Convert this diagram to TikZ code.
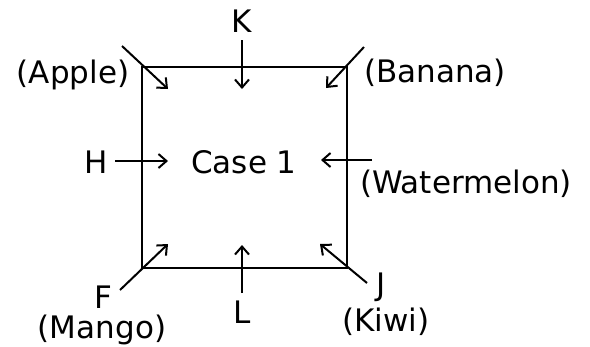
\documentclass[tikz,border=0pt]{standalone}
\usepackage{fontspec}
\setmainfont{DejaVu Sans}
\usetikzlibrary{arrows.meta,positioning}

\begin{document}
\begin{tikzpicture}
[x=1pt,y=-1pt,every node/.style={inner sep=0pt,font=\fontsize{31}{37}\selectfont},
pointer/.style={line width=2pt,-{Straight Barb[length=8pt,width=14pt,line width=2pt]}}]
\useasboundingbox (0,0) rectangle (590,346);
% the box
\coordinate (tl) at (142,67);
\coordinate (tr) at (347,67);
\coordinate (br) at (347,268);
\coordinate (bl) at (142,268);
\draw[line width=2pt] (tl) -- (tr) -- (br) -- (bl) -- cycle;
\node (case) at (244,162) {Case 1};
% labels
\node (k) at (242,21) {K};
\node (l) at (242,312) {L};
\node (h) at (96,162) {H};
\node (apple) at (73,75) {(Apple)};
\node (banana) at (435,73) {(Banana)};
\node (water) at (466,184) {(Watermelon)};
\node (f) at (103,297) {F};
\node (mango) at (102,330) {(Mango)};
\node (j) at (381,287) {J};
\node (kiwi) at (386,322) {(Kiwi)};
% arrow ends
\coordinate (kt) at (242,40);  \coordinate (kh) at (242,89);
\coordinate (lt) at (242,293); \coordinate (lh) at (242,245);
\coordinate (ht) at (115,161); \coordinate (hh) at (168,161);
\coordinate (wt) at (372,160); \coordinate (wh) at (321,160);
\coordinate (at) at (122,46);  \coordinate (ah) at (168,89);
\coordinate (bt) at (364,47);  \coordinate (bh) at (326,88);
\coordinate (mt) at (120,290); \coordinate (mh) at (168,244);
\coordinate (jt) at (367,283); \coordinate (jh) at (320,244);
\path
\foreach \startNode/\endNode in {kt/kh,lt/lh,ht/hh,wt/wh,at/ah,bt/bh,mt/mh,jt/jh}
{
	(\startNode) edge[pointer] (\endNode)
};
\end{tikzpicture}
\end{document}
